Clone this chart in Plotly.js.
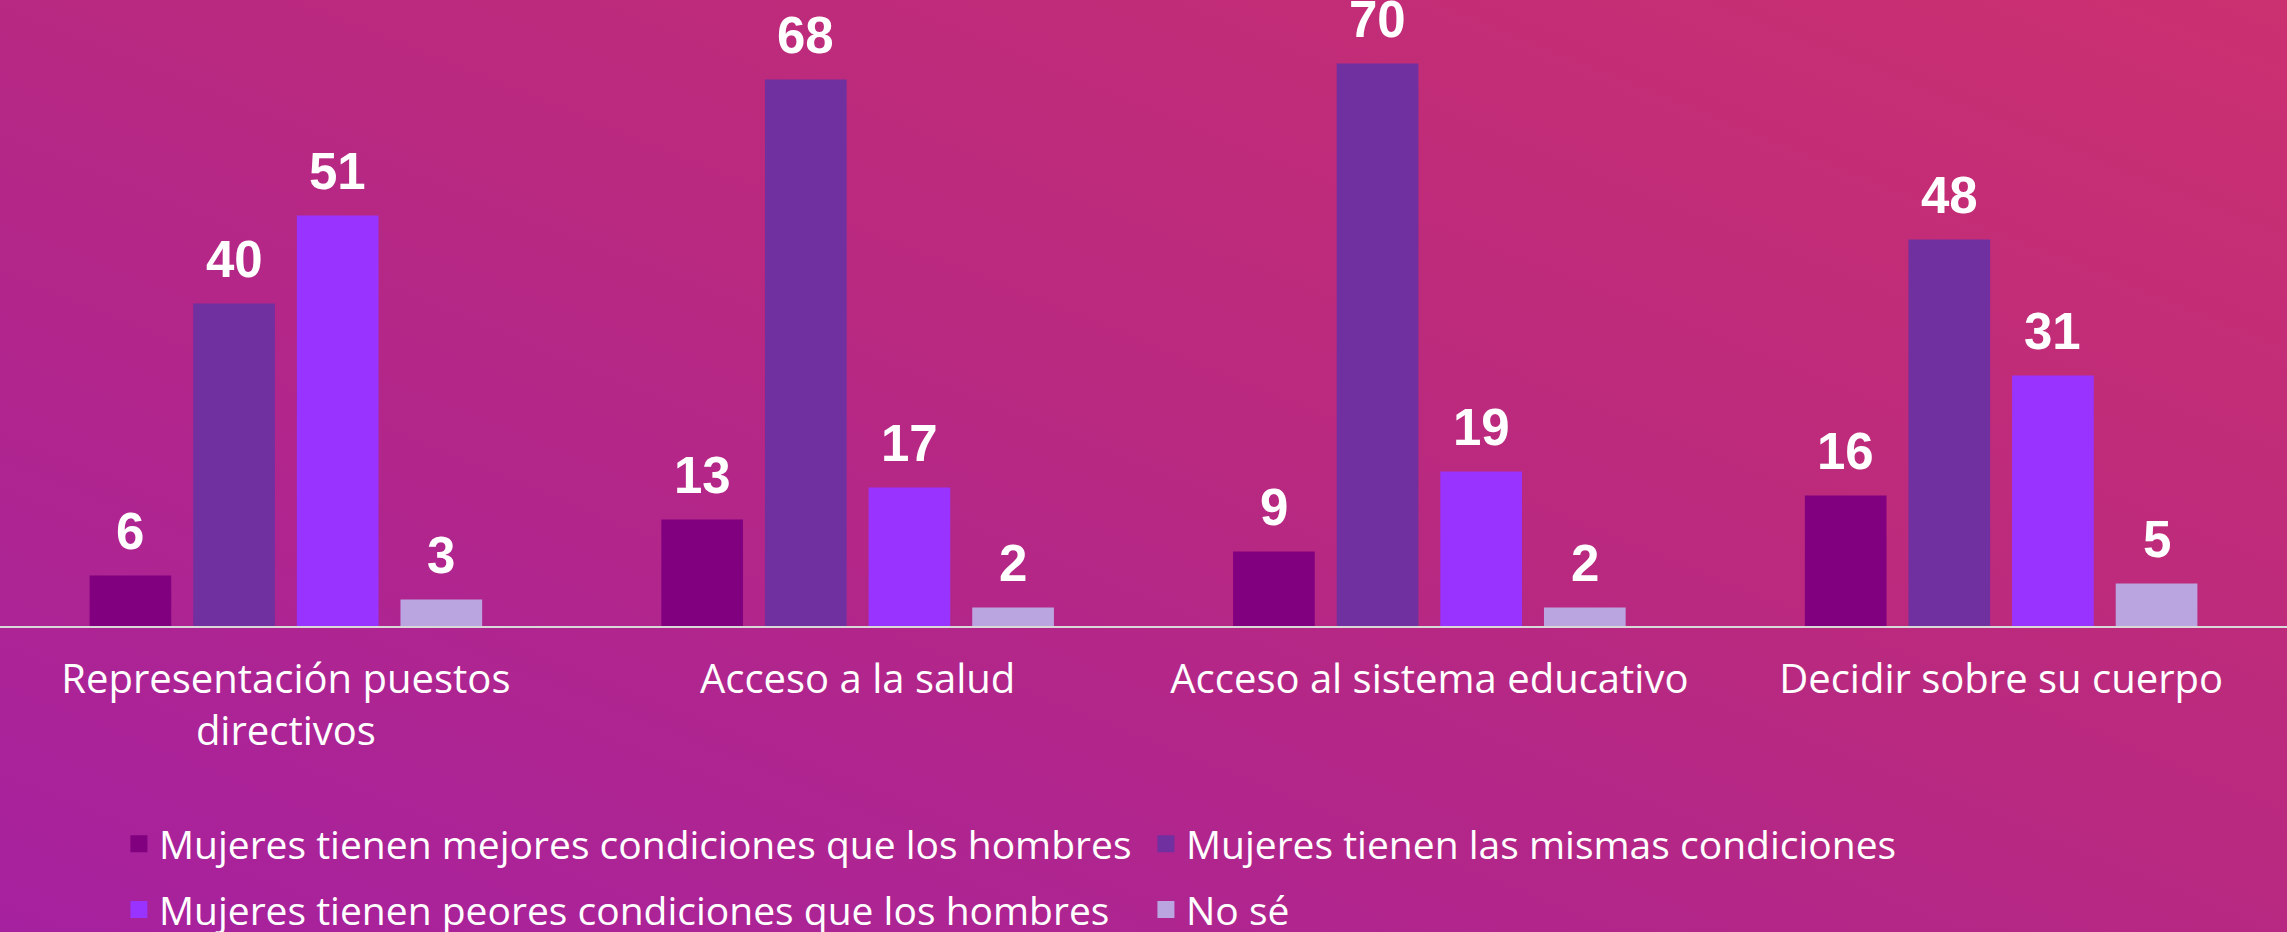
<!DOCTYPE html>
<html>
<head>
<meta charset="utf-8">
<script src="https://cdn.plot.ly/plotly-3.0.1.min.js"></script>
<style>
  html, body { margin: 0; padding: 0; }
  #chart {
    width: 2287px; height: 932px;
    background: linear-gradient(to top right, #A6219F 0%, #B9297F 55%, #CB3070 100%);
  }
</style>
</head>
<body>
<div id="chart"></div>
<script>
const categories = [
  "Representación puestos<br>directivos",
  "Acceso a la salud",
  "Acceso al sistema educativo",
  "Decidir sobre su cuerpo"
];
const seriesNames = [
  "Mujeres tienen mejores condiciones que los hombres",
  "Mujeres tienen las mismas condiciones",
  "Mujeres tienen peores condiciones que los hombres",
  "No sé"
];
const mejores = [6, 13, 9, 16];
const mismas = [40, 68, 70, 48];
const peores = [51, 17, 19, 31];
const noSe = [3, 2, 2, 5];
const seriesColors = ["#800080", "#7030A0", "#9933FF", "#BBA5E0"];

const seriesValues = [mejores, mismas, peores, noSe];

const traces = seriesValues.map((vals, k) => ({
  type: "bar",
  name: seriesNames[k],
  legendgroup: "g" + k,
  x: categories,
  y: vals,
  marker: { color: seriesColors[k], line: { color: seriesColors[k], width: 5 } },
  hoverinfo: "none"
}));

const W = 2287;
const BARGAP = 0.275;
const slotPx = (W / categories.length) * (1 - BARGAP) / seriesValues.length;

const annotations = [];
seriesValues.forEach((vals, k) => {
  vals.forEach((v, i) => {
    annotations.push({
      x: categories[i], y: v, xref: "x", yref: "y",
      text: String(v), showarrow: false,
      yanchor: "bottom", xanchor: "center",
      xshift: (k - (seriesValues.length - 1) / 2) * slotPx,
      yshift: 16,
      font: { family: "Liberation Sans, Arial, sans-serif", size: 51, color: "#FFFFFF", weight: "bold" }
    });
  });
});

const layout = {
  width: 2287, height: 932,
  margin: { l: 0, r: 0, t: 26, b: 306, pad: 0 },
  paper_bgcolor: "rgba(0,0,0,0)",
  plot_bgcolor: "rgba(0,0,0,0)",
  barmode: "group",
  bargap: BARGAP,
  bargroupgap: 0.26,
  showlegend: true,
  font: { family: "Open Sans, Liberation Sans, Arial, sans-serif", color: "#FFFFFF" },
  xaxis: {
    type: "category",
    showline: true, linecolor: "#D9D9D9", linewidth: 2,
    showgrid: false, zeroline: false, ticks: "",
    tickfont: { size: 40, color: "#FFFFFF" },
    ticklabelstandoff: 17,
    fixedrange: true
  },
  yaxis: {
    range: [0, 75], visible: false, showgrid: false, zeroline: false, fixedrange: true
  },
  legend: {
    orientation: "h",
    xref: "container", yref: "container",
    x: 0.052, xanchor: "left",
    y: 0.1288, yanchor: "top",
    entrywidth: 982, entrywidthmode: "pixels",
    font: { size: 39, color: "#FFFFFF" },
    bgcolor: "rgba(0,0,0,0)",
    traceorder: "grouped",
    tracegroupgap: 12
  },
  annotations: annotations
};

Plotly.newPlot("chart", traces, layout, { displayModeBar: false, staticPlot: true });
</script>
</body>
</html>
